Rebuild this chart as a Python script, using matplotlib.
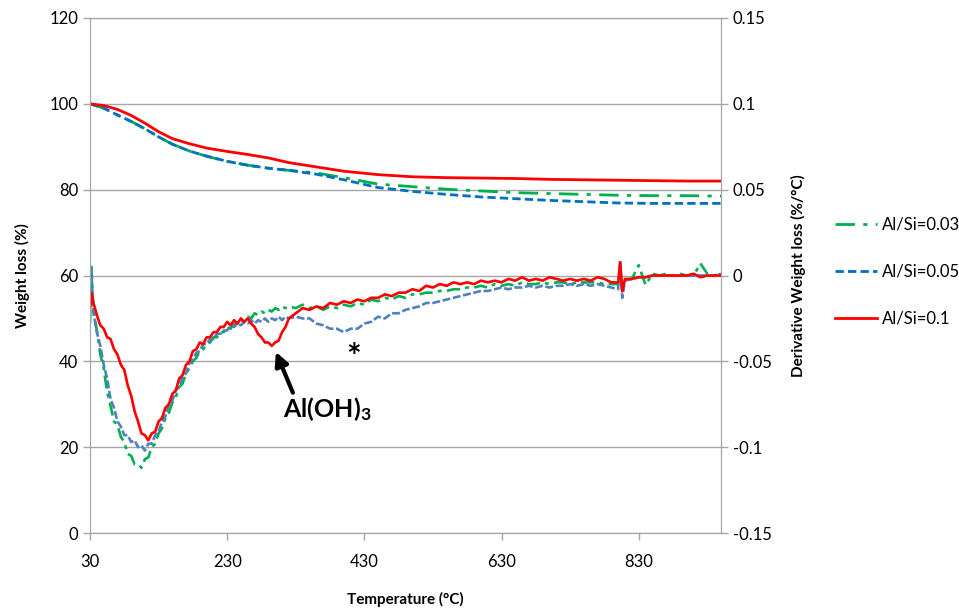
import matplotlib
matplotlib.use("Agg")
import matplotlib.pyplot as plt

plt.rcParams["font.family"] = ["Lato", "DejaVu Sans"]
plt.rcParams["mathtext.fontset"] = "custom"
plt.rcParams["mathtext.rm"] = "Lato"
plt.rcParams["mathtext.bf"] = "Lato:bold"

labels = ["Al/Si=0.03", "Al/Si=0.05", "Al/Si=0.1"]

# weight loss curves (left axis, %)
temp_tg = [30, 50, 70, 90, 110, 130, 150, 175, 200, 230, 260, 290, 320, 360,
           400, 450, 500, 550, 600, 650, 700, 750, 800, 850, 900, 950]
tg_003 = [100, 99.0, 97.4, 95.9, 94.2, 92.3, 90.6, 89.0, 87.8, 86.6, 85.7, 85.0,
          84.5, 83.9, 82.8, 81.3, 80.7, 80.1, 79.7, 79.3, 79.1, 78.9, 78.7, 78.6,
          78.6, 78.5]
tg_005 = [100, 99.0, 97.4, 95.9, 94.2, 92.3, 90.6, 89.0, 87.8, 86.6, 85.7, 85.0,
          84.5, 83.6, 82.3, 80.5, 79.6, 78.9, 78.3, 77.9, 77.5, 77.2, 76.9, 76.8,
          76.8, 76.8]
tg_01 = [100, 99.6, 98.7, 97.3, 95.5, 93.5, 91.9, 90.7, 89.7, 88.9, 88.2, 87.4,
         86.3, 85.3, 84.3, 83.5, 83.0, 82.8, 82.7, 82.6, 82.4, 82.3, 82.2, 82.1,
         82.0, 82.0]

# derivative curves (right axis, %/°C)
temp_dtg = [30, 32, 35, 40, 45, 50, 55, 60, 65, 70, 75, 80, 85, 90, 95, 100,
            105, 110, 115, 120, 125, 130, 135, 140, 145, 150, 155, 160, 165,
            170, 175, 180, 185, 190, 195, 200, 205, 210, 215, 220, 225, 230,
            235, 240, 245, 250, 255, 260, 265, 270, 275, 280, 285, 290, 295,
            300, 305, 310, 315, 320, 330, 340, 350, 360, 370, 380, 390, 400,
            410, 420, 430, 440, 450, 460, 470, 480, 490, 500, 510, 520, 530,
            540, 550, 560, 570, 580, 590, 600, 610, 620, 630, 640, 650, 660,
            670, 680, 690, 700, 710, 720, 730, 740, 750, 760, 770, 780, 790,
            800, 803, 806, 810, 820, 830, 840, 850, 860, 870, 880, 890, 900,
            910, 920, 930, 940, 950]
dtg_003 = [-0.028, 0.005, -0.020, -0.032, -0.046, -0.054, -0.068, -0.076,
           -0.085, -0.087, -0.094, -0.097, -0.104, -0.105, -0.110, -0.110,
           -0.112, -0.107, -0.106, -0.100, -0.098, -0.092, -0.089, -0.083,
           -0.080, -0.074, -0.071, -0.065, -0.063, -0.057, -0.054, -0.050,
           -0.048, -0.044, -0.043, -0.040, -0.039, -0.036, -0.036, -0.033,
           -0.033, -0.030, -0.031, -0.028, -0.028, -0.026, -0.027, -0.024,
           -0.025, -0.022, -0.023, -0.021, -0.022, -0.020, -0.021, -0.019,
           -0.020, -0.018, -0.019, -0.018, -0.019, -0.017, -0.019, -0.018,
           -0.020, -0.018, -0.019, -0.017, -0.018, -0.016, -0.017, -0.014,
           -0.015, -0.013, -0.014, -0.012, -0.013, -0.011, -0.011, -0.010,
           -0.010, -0.009, -0.009, -0.008, -0.008, -0.007, -0.007, -0.006,
           -0.007, -0.005, -0.006, -0.005, -0.006, -0.004, -0.005, -0.005,
           -0.004, -0.005, -0.004, -0.004, -0.005, -0.004, -0.004, -0.004,
           -0.004, -0.005, -0.005, -0.005, 0.004, -0.0075, -0.0025, -0.002,
           0.006, -0.0055, 0.001, 0.0, 0.001, 0.0, 0.001, 0.0, 0.0, 0.007,
           0.001, 0.0, 0.001]
dtg_005 = [-0.018, 0.003, -0.022, -0.033, -0.041, -0.052, -0.060, -0.072,
           -0.077, -0.085, -0.088, -0.093, -0.093, -0.097, -0.096, -0.100,
           -0.099, -0.102, -0.098, -0.098, -0.093, -0.091, -0.085, -0.082,
           -0.075, -0.073, -0.067, -0.065, -0.059, -0.057, -0.051, -0.049,
           -0.045, -0.044, -0.040, -0.040, -0.037, -0.037, -0.034, -0.034,
           -0.032, -0.032, -0.029, -0.030, -0.028, -0.029, -0.027, -0.028,
           -0.026, -0.028, -0.026, -0.027, -0.025, -0.027, -0.025, -0.026,
           -0.024, -0.026, -0.024, -0.025, -0.024, -0.025, -0.025, -0.028,
           -0.029, -0.031, -0.031, -0.033, -0.031, -0.031, -0.028, -0.027,
           -0.024, -0.025, -0.022, -0.022, -0.020, -0.019, -0.018, -0.016,
           -0.016, -0.015, -0.014, -0.013, -0.012, -0.011, -0.010, -0.009,
           -0.009, -0.008, -0.007, -0.008, -0.007, -0.007, -0.006, -0.007,
           -0.006, -0.007, -0.006, -0.006, -0.005, -0.006, -0.005, -0.006,
           -0.005, -0.006, -0.007, -0.008, 0.009, -0.013, -0.003, -0.002,
           -0.001, -0.001, 0.0, 0.0, 0.0, 0.0, 0.0, 0.0, 0.0, 0.0, 0.0, 0.0,
           0.001]
dtg_01 = [-0.020, -0.010, -0.016, -0.023, -0.029, -0.031, -0.036, -0.037,
          -0.043, -0.046, -0.052, -0.055, -0.064, -0.070, -0.079, -0.085,
          -0.092, -0.093, -0.096, -0.092, -0.091, -0.085, -0.083, -0.077,
          -0.075, -0.069, -0.067, -0.060, -0.058, -0.052, -0.050, -0.044,
          -0.043, -0.039, -0.040, -0.036, -0.036, -0.033, -0.033, -0.030,
          -0.030, -0.027, -0.029, -0.026, -0.028, -0.025, -0.027, -0.025,
          -0.028, -0.030, -0.034, -0.036, -0.039, -0.039, -0.041, -0.039,
          -0.038, -0.033, -0.030, -0.025, -0.022, -0.019, -0.020, -0.018,
          -0.019, -0.016, -0.017, -0.015, -0.016, -0.014, -0.015, -0.013,
          -0.013, -0.011, -0.012, -0.010, -0.010, -0.008, -0.009, -0.006,
          -0.007, -0.005, -0.006, -0.004, -0.005, -0.004, -0.005, -0.003,
          -0.004, -0.003, -0.004, -0.002, -0.003, -0.001, -0.003, -0.002,
          -0.003, -0.001, -0.002, -0.003, -0.002, -0.003, -0.002, -0.003,
          -0.001, -0.002, -0.004, -0.004, 0.0075, -0.0093, -0.002, -0.002,
          -0.001, -0.001, 0.0, 0.0, 0.0, 0.0, 0.0, 0.0, 0.001, -0.001, 0.0,
          0.0, 0.0]

green = "#00B050"
blue_tg = "#0070C0"
blue_dtg = "#4F81BD"
red = "#FF0000"
grey = "#A6A6A6"

fig = plt.figure(figsize=(9.59, 6.08), dpi=100)
ax = fig.add_axes([90 / 959, 75 / 608, 631 / 959, 515 / 608])

l1, = ax.plot(temp_tg, tg_003, color=green, lw=2, dashes=(7, 3, 1.5, 3))
l2, = ax.plot(temp_tg, tg_005, color=blue_tg, lw=2, dashes=(3, 1.5))
l3, = ax.plot(temp_tg, tg_01, color=red, lw=2)

ax.set_xlim(30, 950)
ax.set_ylim(0, 120)
ax.set_xticks([30, 230, 430, 630, 830])
ax.set_yticks(range(0, 121, 20))
ax.yaxis.grid(True, color=grey, lw=1)
ax.set_axisbelow(True)
for s in ax.spines.values():
    s.set_color(grey)
ax.tick_params(axis="both", colors=grey, labelcolor="black", labelsize=12,
               length=5, width=1)
ax.tick_params(axis="x", pad=10)
ax.set_xlabel("Temperature (°C)", fontsize=11, fontweight="bold", labelpad=16)
ax.set_ylabel("Weight loss (%)", fontsize=11, fontweight="bold", labelpad=14)

ax2 = ax.twinx()
ax2.plot(temp_dtg, dtg_003, color=green, lw=1.9, dashes=(5, 2, 1.5, 2))
ax2.plot(temp_dtg, dtg_005, color=blue_dtg, lw=1.9, dashes=(3, 1))
ax2.plot(temp_dtg, dtg_01, color=red, lw=1.9)
ax2.set_ylim(-0.15, 0.15)
ax2.set_yticks([-0.15, -0.1, -0.05, 0, 0.05, 0.1, 0.15])
ax2.set_yticklabels(["-0.15", "-0.1", "-0.05", "0", "0.05", "0.1", "0.15"])
for s in ax2.spines.values():
    s.set_color(grey)
ax2.tick_params(axis="y", colors=grey, labelcolor="black", labelsize=12,
                length=5, width=1)
ax2.set_ylabel("Derivative Weight loss (%/°C)", fontsize=11,
               fontweight="bold", labelpad=14)

ax2.annotate(r"$\mathbf{Al(OH)_3}$", xy=(301, -0.0445), xytext=(312, -0.078),
             fontsize=18, va="center", ha="left",
             arrowprops=dict(arrowstyle="-|>", color="black", lw=3,
                             mutation_scale=20, shrinkA=0, shrinkB=0,
                             relpos=(0.12, 1.0)))
ax2.text(414, -0.047, r"$\mathbf{*}$", fontsize=25, ha="center",
         va="center")

fig.legend([l1, l2, l3], labels, loc="upper left",
           bbox_to_anchor=(835 / 959, 1 - 217 / 608), frameon=False,
           fontsize=12, handlelength=2.5, labelspacing=1.85,
           handletextpad=0.3, borderpad=0, borderaxespad=0)

fig.savefig("out.png", dpi=100)
